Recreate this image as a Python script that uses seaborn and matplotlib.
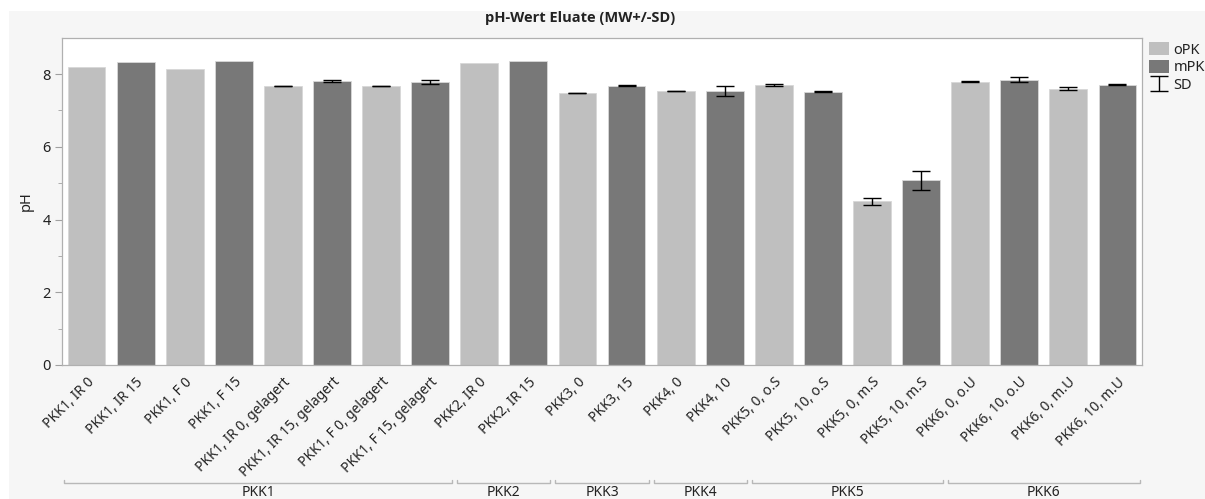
import numpy as np
import pandas as pd
import matplotlib
matplotlib.use("Agg")
import matplotlib.pyplot as plt
import seaborn as sns
from matplotlib.patches import Patch, Rectangle
from matplotlib.transforms import blended_transform_factory

labels = ["PKK1, IR 0", "PKK1, IR 15", "PKK1, F 0", "PKK1, F 15",
          "PKK1, IR 0, gelagert", "PKK1, IR 15, gelagert", "PKK1, F 0, gelagert",
          "PKK1, F 15, gelagert", "PKK2, IR 0", "PKK2, IR 15", "PKK3, 0", "PKK3, 15",
          "PKK4, 0", "PKK4, 10", "PKK5, 0, o.S", "PKK5, 10, o.S", "PKK5, 0, m.S",
          "PKK5, 10, m.S", "PKK6, 0, o.U", "PKK6, 10, o.U", "PKK6, 0, m.U", "PKK6, 10, m.U"]
types = ["oPK", "mPK"] * 11
ph_mean = [8.20, 8.34, 8.14, 8.36, 7.67, 7.81, 7.67, 7.79, 8.30, 8.36, 7.48, 7.68,
           7.53, 7.53, 7.70, 7.52, 4.50, 5.08, 7.79, 7.85, 7.60, 7.71]
ph_sd = [np.nan, np.nan, np.nan, np.nan, 0.01, 0.02, 0.01, 0.05, np.nan, np.nan, 0.005, 0.015,
         0.005, 0.13, 0.04, 0.01, 0.10, 0.26, 0.01, 0.07, 0.05, 0.01]
groups = ["PKK1", "PKK2", "PKK3", "PKK4", "PKK5", "PKK6"]
group_sizes = [8, 2, 2, 2, 4, 4]

colors = {"oPK": "#bfbfbf", "mPK": "#787878"}
FONT = ["Noto Sans", "DejaVu Sans"]

sns.set_style("white")
plt.rcParams["font.family"] = FONT

fig = plt.figure(figsize=(12.05, 4.99), dpi=100, facecolor="white")
fig.patches.append(Rectangle((9 / 1205, 0), 1, (499 - 11) / 499, transform=fig.transFigure,
                             facecolor="#f6f6f6", edgecolor="none", zorder=-10))
ax = fig.add_axes([62 / 1205, (499 - 365) / 499, (1142 - 62) / 1205, (365 - 37.7) / 499])
ax.set_facecolor("white")

df = pd.DataFrame({"label": labels, "type": types, "ph": ph_mean, "sd": ph_sd})
sns.barplot(data=df, x="label", y="ph", hue="type", order=labels, palette=colors,
            dodge=False, width=0.77, errorbar=None, legend=False, ax=ax,
            edgecolor="#d8d8d8", linewidth=0.6, saturation=1)

xpos = np.arange(len(labels))
eb = ax.errorbar(xpos, df["ph"], yerr=df["sd"], fmt="none", ecolor="black",
                 elinewidth=1.0, capsize=6.8, capthick=1.0, label="SD", zorder=5)

ax.set_xlim(-0.5, len(labels) - 0.5)
ax.set_ylim(0, 9)
ax.set_yticks([0, 2, 4, 6, 8])
ax.set_yticks([1, 3, 5, 7], minor=True)
ax.tick_params(axis="y", which="major", direction="out", length=5, color="#a0a0a0",
               labelsize=10.5, labelcolor="#222222", left=True, pad=3)
ax.tick_params(axis="y", which="minor", direction="out", length=3, color="#a0a0a0", left=True)
ax.tick_params(axis="x", direction="in", length=4, color="#a8a8a8", bottom=True, pad=7)
ax.set_xticks(xpos)
ax.set_xticklabels(labels, rotation=45, ha="right", va="top", rotation_mode="anchor",
                   fontsize=9.9, color="#222222")
for s in ax.spines.values():
    s.set_visible(True)
    s.set_color("#b0b0b0")
    s.set_linewidth(0.9)
ax.set_xlabel("")
ax.set_ylabel("pH", fontsize=10.5, color="#222222", labelpad=-2)
ax.yaxis.set_label_coords(-0.026, 0.5)

# group brackets
trans = blended_transform_factory(ax.transData, ax.transAxes)
start = 0
ybr = (365 - 483) / (365 - 37.7)
ytxt = (365 - 493) / (365 - 37.7)
for g, n in zip(groups, group_sizes):
    x0 = start - 0.5 + 0.05
    x1 = start + n - 0.5 - 0.05
    ax.plot([x0, x0, x1, x1], [ybr + 0.008, ybr, ybr, ybr + 0.008], transform=trans,
            color="#b8b8b8", lw=1.0, clip_on=False)
    ax.text((x0 + x1) / 2, ytxt, g, transform=trans, ha="center", va="center",
            fontsize=10, color="#222222", clip_on=False)
    start += n

fig.text(580 / 1205, (499 - 18) / 499, "pH-Wert Eluate (MW+/-SD)", ha="center", va="center",
         fontsize=10.5, fontweight="bold", color="#222222", family=["Open Sans", "DejaVu Sans"])

handles = [Patch(facecolor=colors["oPK"], edgecolor="none"),
           Patch(facecolor=colors["mPK"], edgecolor="none"), eb]
leg = ax.legend(handles, ["oPK", "mPK", "SD"], loc="upper left", bbox_to_anchor=(1.002, 1.0),
                frameon=False, fontsize=10.5, handlelength=1.4, handleheight=1.0,
                handletextpad=0.3, labelspacing=0.15, borderaxespad=0.2, borderpad=0.1)
for t in leg.get_texts():
    t.set_color("#222222")

fig.savefig("out.png", dpi=100, facecolor=fig.get_facecolor())
